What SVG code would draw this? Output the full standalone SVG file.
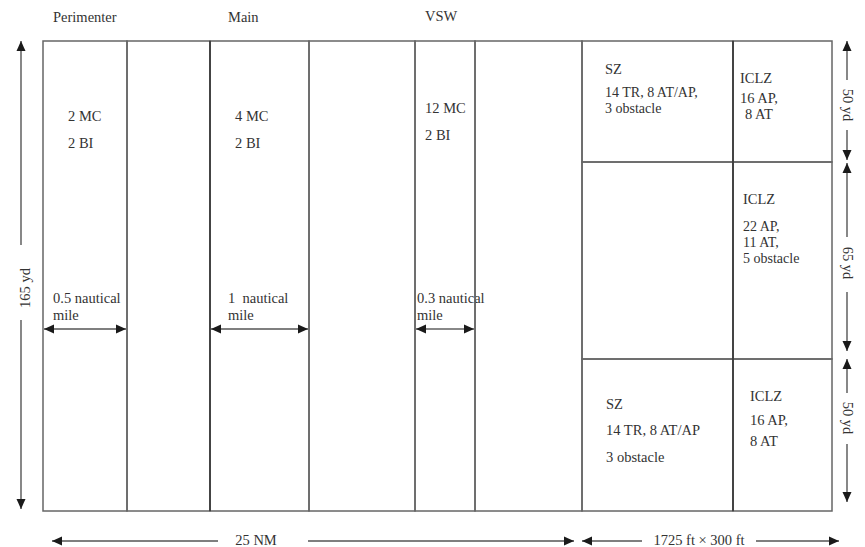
<svg xmlns="http://www.w3.org/2000/svg" width="865" height="547" viewBox="0 0 865 547">
<defs>
<marker id="ah" markerUnits="userSpaceOnUse" markerWidth="10" markerHeight="10" viewBox="0 0 10 10" refX="10" refY="5" orient="auto-start-reverse">
<path d="M0,0.5 L10,5 L0,9.5 Z" fill="#1a1a1a"/>
</marker>
</defs>
<style>
text{font-family:"Liberation Serif","Times New Roman",serif;font-size:14.5px;fill:#333}
.sm{font-size:14px}
.cell{fill:none;stroke:#666;stroke-width:1.5}
.dk{stroke:#222;stroke-width:1.1}
.dim{stroke:#555;stroke-width:1.4;fill:none}
.arr{marker-end:url(#ah)}
</style>
<rect x="0" y="0" width="865" height="547" fill="#fff"/>
<g id="headers">
<text x="53" y="22">Perimenter</text>
<text x="228" y="22">Main</text>
<text x="425" y="21">VSW</text>
</g>
<g id="perimeter">
<rect class="cell" x="43" y="41" width="84" height="470"/>
<text x="68" y="121">2 MC</text>
<text x="68" y="148">2 BI</text>
<text x="53" y="303">0.5 nautical</text>
<text x="53" y="320">mile</text>
</g>
<g id="gap1"><rect class="cell" x="127" y="41" width="83" height="470"/></g>
<g id="main">
<rect class="cell" x="210" y="41" width="99" height="470"/>
<line class="dk" x1="210" y1="41" x2="210" y2="511"/>
<text x="235" y="121">4 MC</text>
<text x="235" y="148">2 BI</text>
<text x="228" y="303" xml:space="preserve">1  nautical</text>
<text x="228" y="320">mile</text>
</g>
<g id="gap2"><rect class="cell" x="309" y="41" width="106" height="470"/></g>
<g id="vsw">
<rect class="cell" x="415" y="41" width="60" height="470"/>
<text x="425" y="113">12 MC</text>
<text x="425" y="140">2 BI</text>
<text x="417" y="303">0.3 nautical</text>
<text x="417" y="320">mile</text>
</g>
<g id="gap3"><rect class="cell" x="475" y="41" width="107" height="470"/></g>
<g id="sz-top">
<rect class="cell" x="582" y="41" width="151" height="121"/>
<text x="605" y="74">SZ</text>
<text class="sm" x="605" y="97">14 TR, 8 AT/AP,</text>
<text class="sm" x="605" y="113">3 obstacle</text>
</g>
<g id="iclz-top">
<rect class="cell" x="733" y="41" width="99" height="121"/>
<text x="740" y="83">ICLZ</text>
<text x="740" y="103">16 AP,</text>
<text x="745" y="119">8 AT</text>
</g>
<g id="mid-left"><rect class="cell" x="582" y="162" width="151" height="197"/></g>
<g id="iclz-mid">
<rect class="cell" x="733" y="162" width="99" height="197"/>
<text x="743" y="204">ICLZ</text>
<text class="sm" x="743" y="231">22 AP,</text>
<text class="sm" x="743" y="247">11 AT,</text>
<text class="sm" x="743" y="263">5 obstacle</text>
</g>
<g id="sz-bottom">
<rect class="cell" x="582" y="359" width="151" height="152"/>
<text x="606" y="409">SZ</text>
<text x="606" y="435">14 TR, 8 AT/AP</text>
<text x="606" y="462">3 obstacle</text>
</g>
<g id="iclz-bottom">
<rect class="cell" x="733" y="359" width="99" height="152"/>
<text x="750" y="401">ICLZ</text>
<text x="750" y="425">16 AP,</text>
<text x="750" y="446">8 AT</text>
</g>
<g id="dividers">
<line class="dk" x1="733" y1="41" x2="733" y2="511"/>
</g>
<g id="connectors">
<line class="dim arr" x1="21" y1="245" x2="21" y2="41"/>
<line class="dim arr" x1="21" y1="320" x2="21" y2="509"/>
<text transform="translate(30,288) rotate(-90)" text-anchor="middle">165 yd</text>
<line class="dim arr" x1="847" y1="80" x2="847" y2="41"/>
<line class="dim arr" x1="847" y1="130" x2="847" y2="160"/>
<text transform="translate(843,105) rotate(90)" text-anchor="middle">50 yd</text>
<line class="dim arr" x1="847" y1="237" x2="847" y2="163"/>
<line class="dim arr" x1="847" y1="292" x2="847" y2="351"/>
<text transform="translate(843,263) rotate(90)" text-anchor="middle">65 yd</text>
<line class="dim arr" x1="847" y1="393" x2="847" y2="359"/>
<line class="dim arr" x1="847" y1="444" x2="847" y2="502"/>
<text transform="translate(843,418) rotate(90)" text-anchor="middle">50 yd</text>
<line class="dim arr" x1="85" y1="329" x2="44" y2="329"/>
<line class="dim arr" x1="85" y1="329" x2="126" y2="329"/>
<line class="dim arr" x1="259" y1="329" x2="211" y2="329"/>
<line class="dim arr" x1="259" y1="329" x2="308" y2="329"/>
<line class="dim arr" x1="445" y1="329" x2="416" y2="329"/>
<line class="dim arr" x1="445" y1="329" x2="474" y2="329"/>
<line class="dim arr" x1="218" y1="541" x2="52" y2="541"/>
<line class="dim arr" x1="308" y1="541" x2="574" y2="541"/>
<text x="256" y="545" text-anchor="middle">25 NM</text>
<line class="dim arr" x1="642" y1="541" x2="582" y2="541"/>
<line class="dim arr" x1="756" y1="541" x2="839" y2="541"/>
<text x="699" y="545" text-anchor="middle">1725 ft × 300 ft</text>
</g>
</svg>
